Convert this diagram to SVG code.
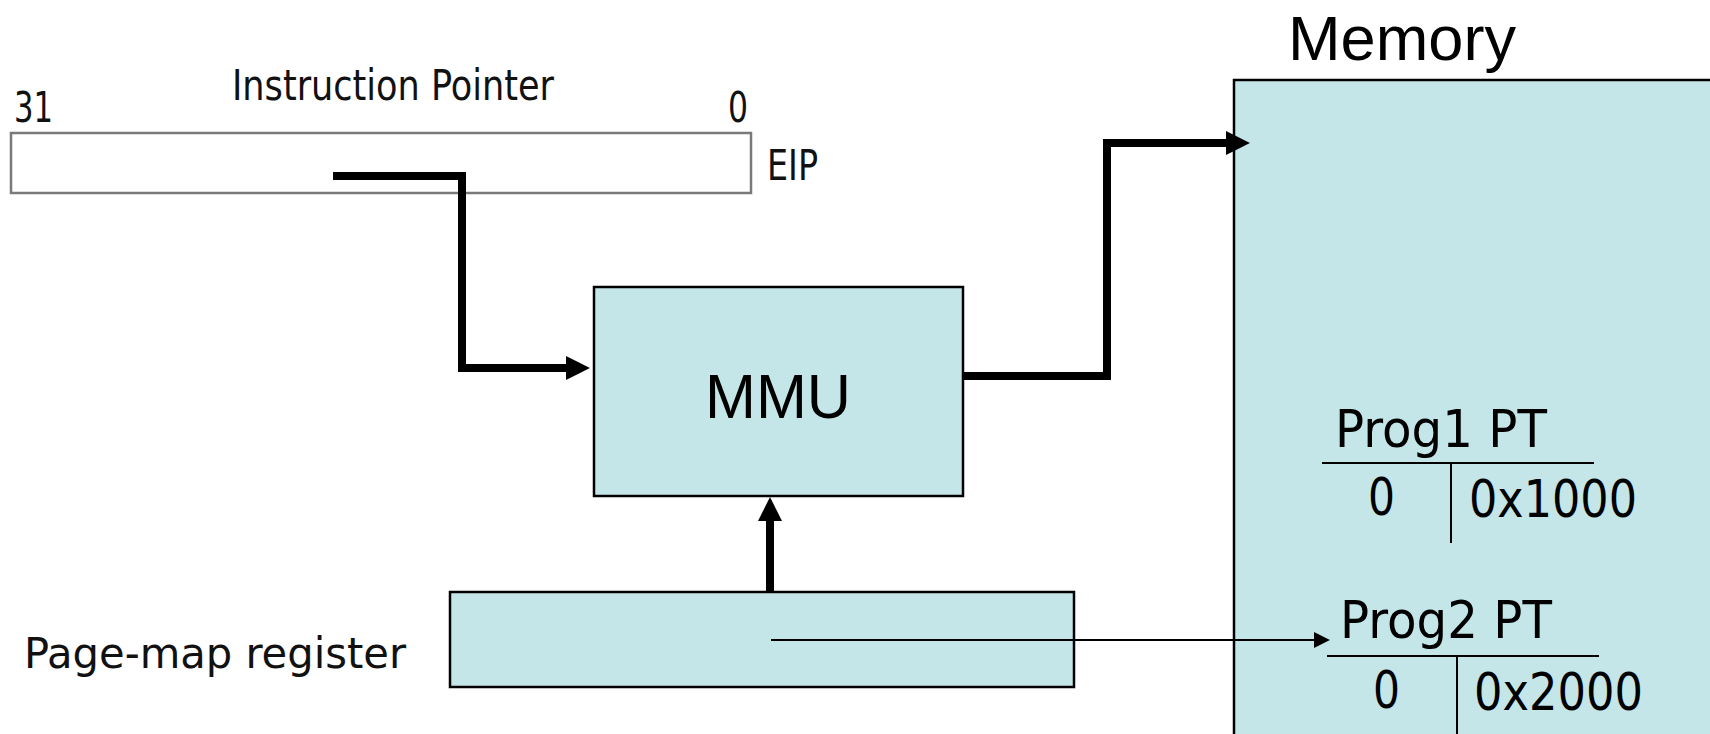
<svg xmlns="http://www.w3.org/2000/svg" width="1710" height="734" viewBox="0 0 1710 734">
  <style>
    .box { fill: #c4e6e8; stroke: #000; stroke-width: 2.5; }
    .reg { fill: #fff; stroke: #7a7a7a; stroke-width: 2.5; }
    .thick { fill: none; stroke: #000; stroke-width: 8; stroke-linejoin: miter; }
    .thin { fill: none; stroke: #000; stroke-width: 2; }
    .rule { stroke: #000; stroke-width: 2; }
    .clear { font-family: "DejaVu Sans Condensed", "Open Sans", sans-serif; font-size: 43px; fill: #111; }
    .arial { font-family: "Liberation Sans", Arial, sans-serif; fill: #000; }
    .tah { font-family: "DejaVu Sans", Verdana, sans-serif; fill: #000; }
  </style>
  <defs>
    <marker id="headBig" markerUnits="userSpaceOnUse" markerWidth="24" markerHeight="24" viewBox="0 0 23 23" refX="1" refY="11.5" orient="auto">
      <path d="M0,0 L23,11.5 L0,23 z" fill="#000"/>
    </marker>
    <marker id="headSmall" markerUnits="userSpaceOnUse" markerWidth="16" markerHeight="16" viewBox="0 0 15 15" refX="1" refY="7.5" orient="auto">
      <path d="M0,0 L15,7.5 L0,15 z" fill="#000"/>
    </marker>
  </defs>

  <!-- Instruction pointer register -->
  <g id="eip">
    <rect class="reg" x="11" y="133" width="740" height="60"/>
    <text class="clear" x="232" y="100" font-size="41" textLength="322" lengthAdjust="spacingAndGlyphs">Instruction Pointer</text>
    <text class="clear" x="14" y="122" textLength="39" lengthAdjust="spacingAndGlyphs">31</text>
    <text class="clear" x="728" y="122" textLength="20" lengthAdjust="spacingAndGlyphs">0</text>
    <text class="clear" x="767" y="180" textLength="51" lengthAdjust="spacingAndGlyphs">EIP</text>
  </g>

  <!-- Memory management unit -->
  <g id="mmu">
    <rect class="box" x="594" y="287" width="369" height="209"/>
    <text class="arial" x="778" y="418" font-size="63" text-anchor="middle" textLength="146" lengthAdjust="spacingAndGlyphs">MMU</text>
  </g>

  <!-- Page-map register -->
  <g id="pagemap">
    <rect class="box" x="450" y="592" width="624" height="95"/>
    <text class="clear" x="24" y="668" font-size="53" textLength="382" lengthAdjust="spacingAndGlyphs">Page-map register</text>
  </g>

  <!-- Physical memory with page tables -->
  <g id="memory">
    <rect class="box" x="1234" y="80" width="490" height="670"/>
    <text class="arial" x="1288" y="60" font-size="63" textLength="228" lengthAdjust="spacingAndGlyphs">Memory</text>
  </g>

  <g id="prog1-pt">
    <text class="tah" x="1335" y="447" font-size="51" textLength="212" lengthAdjust="spacingAndGlyphs">Prog1 PT</text>
    <line class="rule" x1="1322" y1="463" x2="1594" y2="463"/>
    <line class="rule" x1="1451" y1="463" x2="1451" y2="543"/>
    <text class="tah" x="1368" y="515" font-size="51" textLength="27" lengthAdjust="spacingAndGlyphs">0</text>
    <text class="tah" x="1469" y="517" font-size="51" textLength="168" lengthAdjust="spacingAndGlyphs">0x1000</text>
  </g>

  <g id="prog2-pt">
    <text class="tah" x="1340" y="638" font-size="51" textLength="212" lengthAdjust="spacingAndGlyphs">Prog2 PT</text>
    <line class="rule" x1="1327" y1="656" x2="1599" y2="656"/>
    <line class="rule" x1="1457" y1="656" x2="1457" y2="740"/>
    <text class="tah" x="1373" y="708" font-size="51" textLength="27" lengthAdjust="spacingAndGlyphs">0</text>
    <text class="tah" x="1474" y="710" font-size="51" textLength="169" lengthAdjust="spacingAndGlyphs">0x2000</text>
  </g>

  <!-- Connectors -->
  <g id="connectors">
    <path class="thick" d="M333,176 H462 V368 H567" marker-end="url(#headBig)"/>
    <path class="thick" d="M963,376 H1107 V143 H1227" marker-end="url(#headBig)"/>
    <path class="thick" d="M770,592 V520" marker-end="url(#headBig)"/>
    <path class="thin" d="M771,640 H1315" marker-end="url(#headSmall)"/>
  </g>
</svg>
